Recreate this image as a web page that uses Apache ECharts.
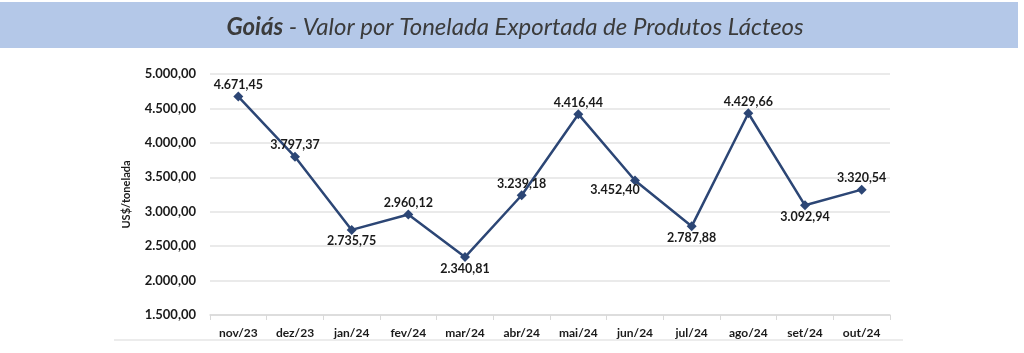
<!DOCTYPE html>
<html>
<head>
<meta charset="utf-8">
<script src="https://cdn.jsdelivr.net/npm/echarts@6/dist/echarts.min.js"></script>
<style>
  html, body { margin: 0; padding: 0; background: #fff; }
  #chart { width: 1024px; height: 353px; }
</style>
</head>
<body>
<div id="chart"></div>
<script>
const meses = ['nov/23', 'dez/23', 'jan/24', 'fev/24', 'mar/24', 'abr/24', 'mai/24', 'jun/24', 'jul/24', 'ago/24', 'set/24', 'out/24']
const valores = [4671.45, 3797.37, 2735.75, 2960.12, 2340.81, 3239.18, 4416.44, 3452.40, 2787.88, 4429.66, 3092.94, 3320.54]
const yMin = 1500
const yMax = 5000
const yStep = 500

// onde cada rótulo fica em relação ao ponto
const posRotulo = ['top', 'top', 'bottom', 'top', 'bottom', 'top', 'top', 'leftBottom', 'bottom', 'top', 'bottom', 'top']

const fonte = 'Lato, "Liberation Sans", sans-serif'
const azul = '#2c4675'

const fmt = (v) => {
    const [int, dec] = Number(v).toFixed(2).split('.')
    return int.replace(/\B(?=(\d{3})+(?!\d))/g, '.') + ',' + dec
}

const chartInstance = echarts.init(document.getElementById('chart'))

const pontos = valores.map((v, i) => {
    const p = posRotulo[i]
    const label = p === 'leftBottom'
        ? { position: 'bottom', offset: [-20, -2] }
        : { position: p }
    return { value: v, label }
})

const options = {
    animation: false,
    title: {
        text: '{b|Goiás} - Valor por Tonelada Exportada de Produtos Lácteos',
        left: 510,
        textAlign: 'center',
        top: 10,
        textStyle: {
            fontFamily: fonte,
            fontStyle: 'italic',
            fontWeight: 'normal',
            fontSize: 24,
            color: '#3b3b3b',
            rich: {
                b: { fontFamily: fonte, fontStyle: 'italic', fontWeight: 'bold', fontSize: 24, color: '#3b3b3b' },
            },
        },
    },
    graphic: [
        {
            type: 'rect',
            z: -10,
            shape: { x: 0, y: 2, width: 1018, height: 46 },
            style: { fill: '#b4c8e8' },
        },
        {
            type: 'line',
            shape: { x1: 114, y1: 340, x2: 903, y2: 340 },
            style: { stroke: '#d9d9d9', lineWidth: 1 },
        },
    ],
    grid: {
        left: 210,
        right: 134,
        top: 74,
        bottom: 38,
    },
    xAxis: {
        type: 'category',
        data: meses,
        axisLine: { lineStyle: { color: '#d9d9d9', width: 1.5 } },
        axisTick: { show: true, length: 5, lineStyle: { color: '#d9d9d9' } },
        axisLabel: {
            fontFamily: fonte,
            fontWeight: 'bold',
            fontSize: 12,
            color: '#1a1a1a',
            margin: 12,
        },
    },
    yAxis: {
        type: 'value',
        min: yMin,
        max: yMax,
        interval: yStep,
        name: 'US$/tonelada',
        nameLocation: 'middle',
        nameGap: 78,
        nameTextStyle: {
            fontFamily: fonte,
            fontWeight: 'bold',
            fontSize: 11,
            color: '#1a1a1a',
        },
        axisLine: { show: false },
        axisTick: { show: false },
        splitLine: { lineStyle: { color: '#e3e3e3', width: 1.5 } },
        axisLabel: {
            fontFamily: fonte,
            fontWeight: 'bold',
            fontSize: 13,
            color: '#1a1a1a',
            margin: 14,
            formatter: (v) => fmt(v),
        },
    },
    series: [
        {
            type: 'line',
            data: pontos,
            symbol: 'diamond',
            symbolSize: 10,
            lineStyle: { color: azul, width: 2.5 },
            itemStyle: { color: azul },
            label: {
                show: true,
                fontFamily: fonte,
                fontWeight: 'bold',
                fontSize: 12.5,
                color: '#1a1a1a',
                distance: 0,
                formatter: (p) => fmt(p.value),
            },
        },
    ],
}

chartInstance.setOption(options)
window.addEventListener('resize', () => chartInstance.resize())
</script>
</body>
</html>
